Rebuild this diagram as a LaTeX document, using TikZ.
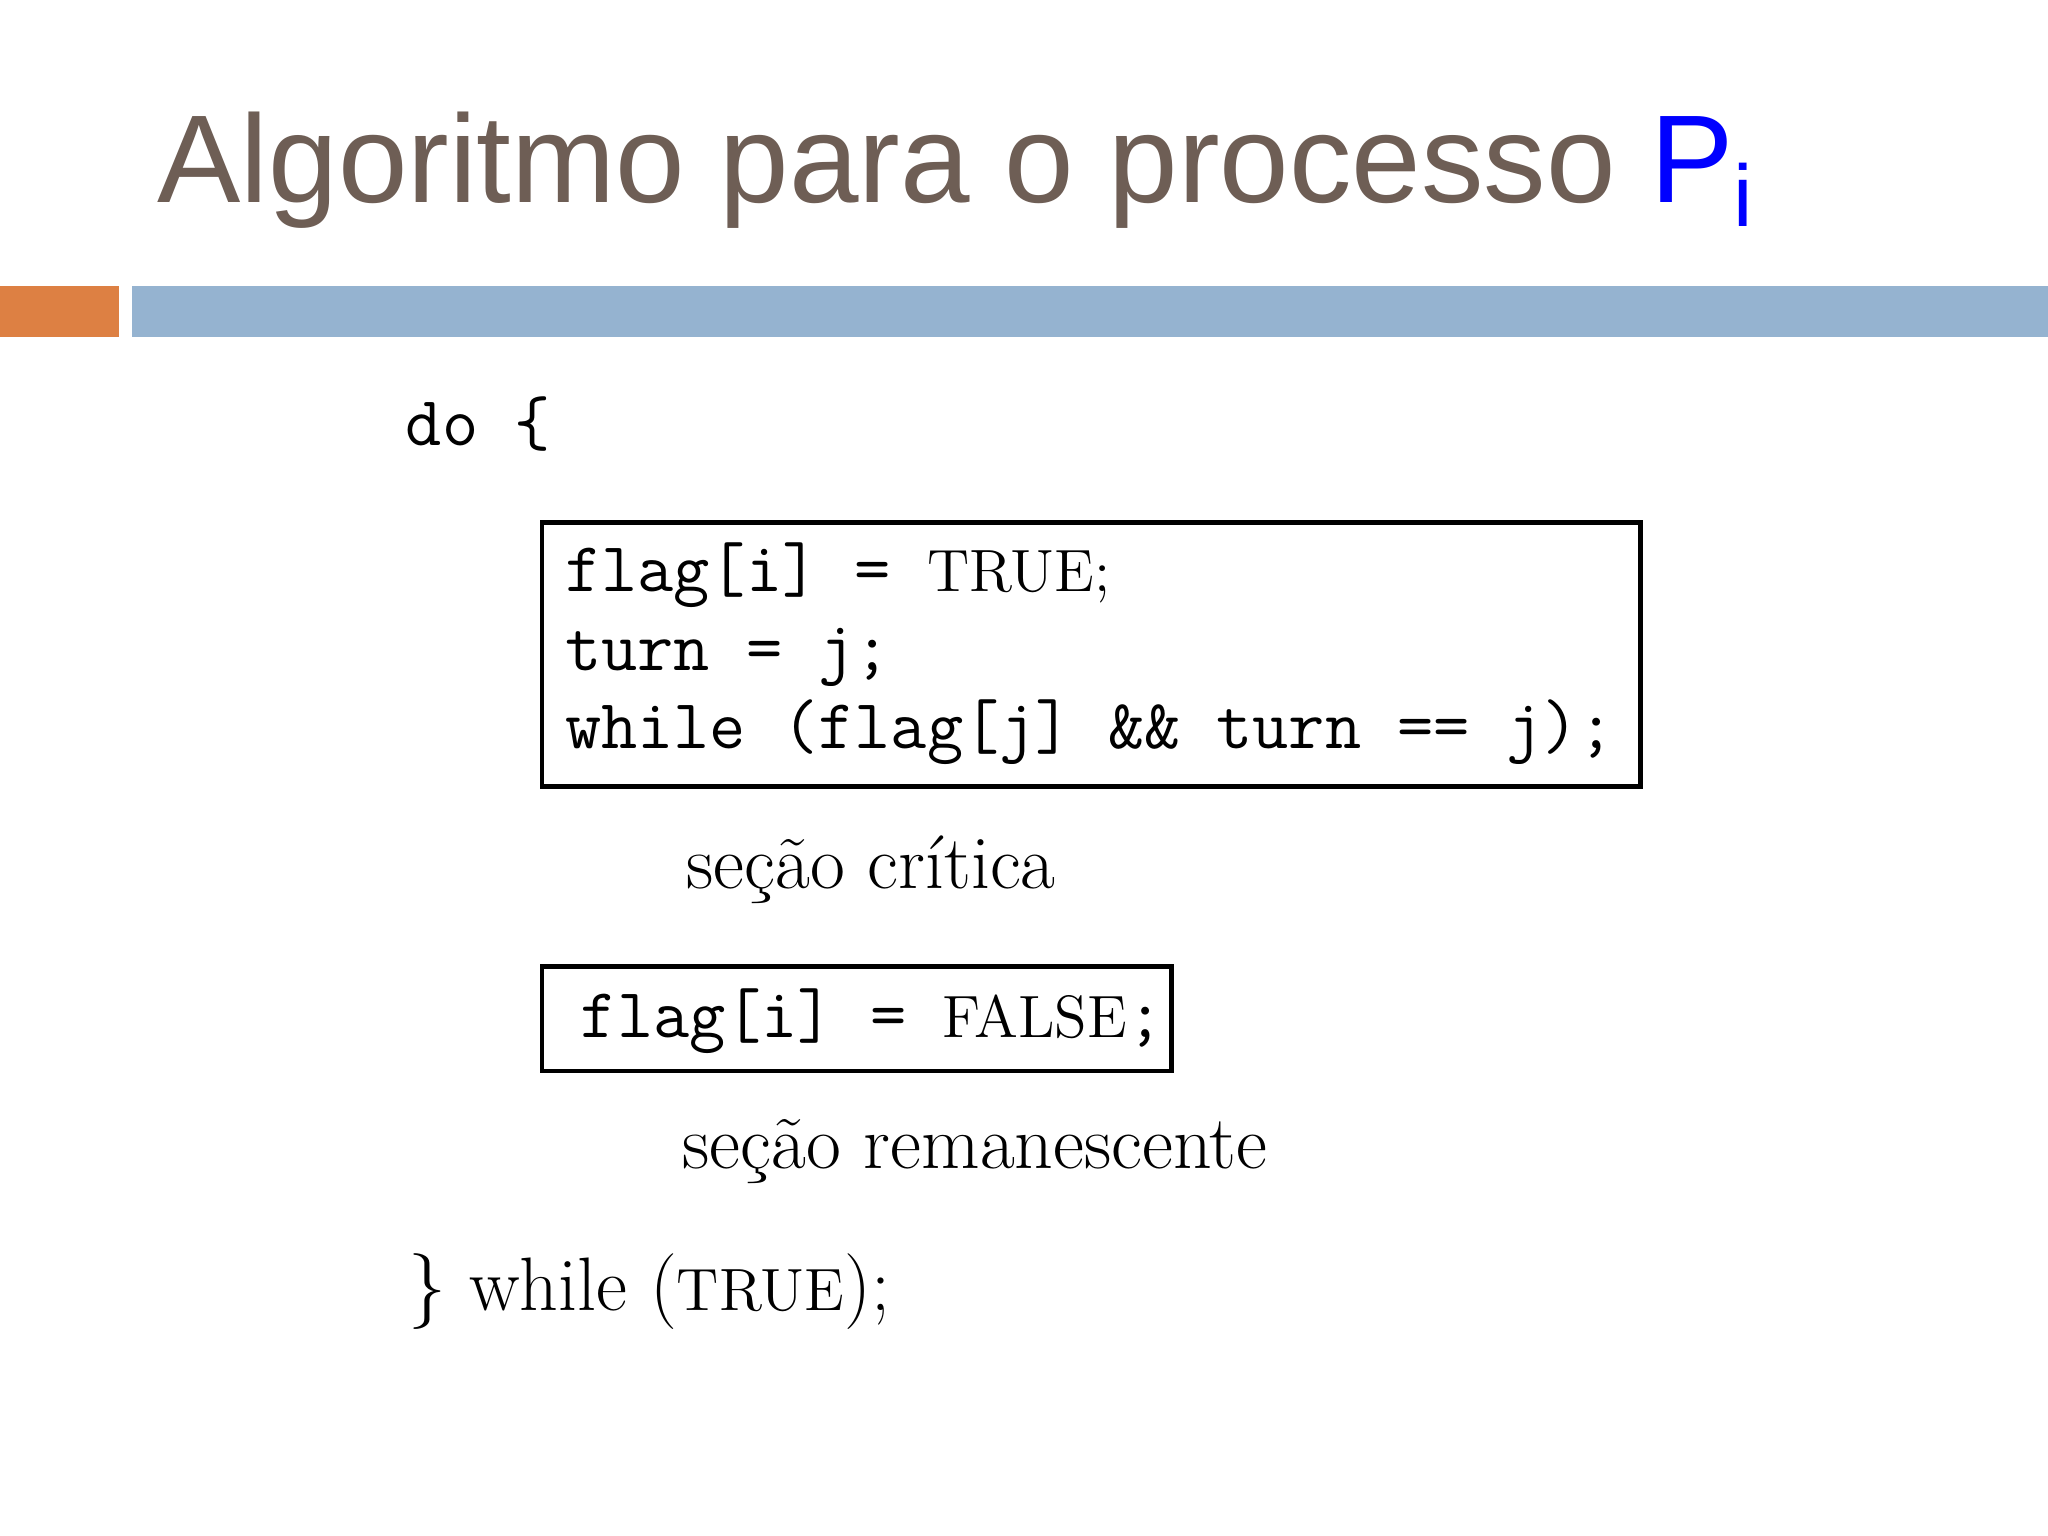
\documentclass[tikz,border=0pt]{standalone}
\usepackage{fontspec}
\newfontfamily\titlefont{Liberation Sans}
\setmonofont{Latin Modern Mono}
\definecolor{titlegray}{HTML}{6E5E55}
\definecolor{barblue}{HTML}{95B3D0}
\definecolor{barorange}{HTML}{DD8043}
\newcommand{\smrm}[1]{{\fontsize{13}{15}\selectfont #1}}
\tikzset{code/.style={anchor=base west,inner sep=0pt,font=\fontsize{15.3}{18}\selectfont},
prose/.style={anchor=base west,inner sep=0pt,font=\fontsize{16.5}{20}\selectfont},
codebox/.style={draw,line width=1pt}}
\begin{document}
\begin{tikzpicture}[x=0.01cm,y=-0.01cm]
\useasboundingbox[fill=white] (0,0) rectangle (1568,1176);
\node[anchor=base west,inner sep=0pt,text=titlegray,font=\titlefont\fontsize{27.2}{30}\selectfont] (title) at (120,155) {Algoritmo para o processo \textcolor{blue}{P\textsubscript{i}}};
\fill[barorange] (0,219) rectangle (91,258);
\fill[barblue] (101,219) rectangle (1568,258);
\node[code] (do) at (310,341) {\texttt{do \{}};
\draw[codebox] (415,400) rectangle (1256,602);
\node[code] (l1) at (432,453) {\texttt{flag[i] = }\smrm{TRUE;}};
\node[code] (l2) at (432,513) {\texttt{turn = j;}};
\node[code] (l3) at (432,573) {\texttt{while (flag[j] \&\& turn == j);}};
\node[prose] (cs) at (525,680) {seção crítica};
\draw[codebox] (415,740) rectangle (897,820);
\node[code] (l4) at (444,794) {\texttt{flag[i] = }\smrm{FALSE}\texttt{;}};
\node[prose] (rs) at (522,895) {seção remanescente};
\node[prose] (end) at (312,1003) {\} while (\smrm{TRUE});};
\end{tikzpicture}
\end{document}
